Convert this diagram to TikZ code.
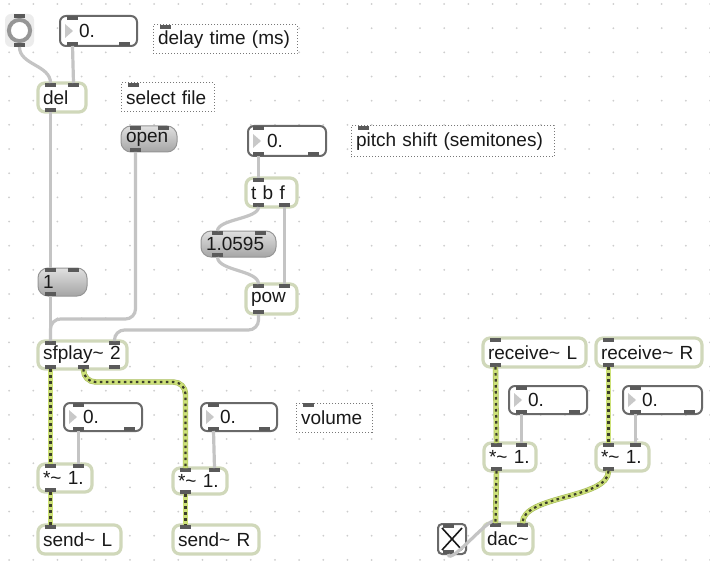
\documentclass[tikz,border=0pt]{standalone}
\usepackage{fontspec}
\setmainfont{Liberation Sans}
\usepackage{tikz}
\usetikzlibrary{calc,positioning}

\definecolor{objline}{RGB}{208,216,186}
\definecolor{msgline}{RGB}{150,150,150}
\definecolor{msgtop}{RGB}{224,224,224}
\definecolor{msgbot}{RGB}{165,165,165}
\definecolor{numline}{RGB}{105,105,105}
\definecolor{cmtline}{RGB}{120,120,120}
\definecolor{port}{RGB}{90,90,90}
\definecolor{cordgray}{RGB}{196,196,196}
\definecolor{siggreen}{RGB}{205,225,120}
\definecolor{sigedge}{RGB}{165,185,90}
\definecolor{sigdark}{RGB}{60,62,42}
\definecolor{dotgray}{RGB}{205,205,205}
\definecolor{txt}{RGB}{25,25,25}
\definecolor{trigray}{RGB}{200,200,200}
\definecolor{bangbg}{RGB}{236,236,236}
\definecolor{ringgray}{RGB}{150,150,150}

\tikzset{
  obj/.style={draw=objline, line width=1.6pt, rounded corners=3.5pt, fill=white,
    anchor=north west, outer sep=0pt, inner xsep=2.5pt, inner ysep=0pt,
    align=left, text=txt, font=\fontsize{9.5}{11}\selectfont},
  msg/.style={obj, draw=msgline, line width=0.5pt, top color=msgtop, bottom color=msgbot, rounded corners=5pt},
  numbox/.style={obj, draw=numline, line width=1pt, rounded corners=3pt, execute at begin node={\hspace*{7pt}}},
  cmt/.style={obj, draw=cmtline, line width=0.5pt, dash pattern=on 0.6pt off 0.9pt, rounded corners=0pt},
  bangbox/.style={fill=bangbg, rounded corners=3pt, anchor=north west, inner sep=0pt, outer sep=0pt,
    minimum width=14.5pt, minimum height=16.5pt},
  togbox/.style={draw=numline, line width=1pt, fill=white, rounded corners=2pt, anchor=north west,
    inner sep=0pt, outer sep=0pt, minimum width=14pt, minimum height=15pt},
  inlet/.style={fill=port, minimum width=5.5pt, minimum height=1.8pt, inner sep=0pt, outer sep=0pt, anchor=north west},
  outlet/.style={inlet, anchor=south west},
  cord/.style={draw=cordgray, line width=1.6pt, rounded corners=5pt},
  sig/.style={draw=siggreen, line width=2.1pt, rounded corners=6pt,
    preaction={draw=sigedge, line width=2.7pt},
    postaction={draw=sigdark, line width=1.1pt, dash pattern=on 1.3pt off 1.7pt}}
}

\begin{document}
\begin{tikzpicture}[x=0.5pt, y=-0.5pt]
  \useasboundingbox (0,0) rectangle (710,561);
  \fill[white] (0,0) rectangle (710,561);
  \foreach \i in {0,...,29}        % grid
    \foreach \j in {0,...,23}
      \fill[dotgray] (9.1+24.17*\i, 4+24.17*\j) circle (0.5pt);

  % delay and file
  \node[bangbox] (bang) at (5,14) {};
  \draw[line width=2pt, draw=ringgray, fill=white] (bang.center) circle (5.3pt);
  \node[numbox, text width=33.5pt, minimum height=15pt] (dtime) at (60,16) {0.};
  \node[cmt, text width=67pt, minimum height=14.5pt] (dlabel) at (153,25) {delay time (ms)};
  \node[obj, text width=19pt, minimum height=14.5pt] (del) at (38,83) {del};
  \node[cmt, text width=41.5pt, minimum height=14.5pt] (sellabel) at (121,83) {select file};
  \node[msg, text width=23pt, minimum height=13pt] (open) at (121,126) {open};
  \node[msg, text width=19.5pt, minimum height=14pt] (one) at (38,268) {1};

  % pitch
  \node[numbox, text width=34pt, minimum height=15pt] (psnum) at (248,126) {0.};
  \node[cmt, text width=96.5pt, minimum height=15.5pt] (pslabel) at (351,126) {pitch shift (semitones)};
  \node[obj, text width=20.5pt, minimum height=14.5pt] (tbf) at (246,178) {t b f};
  \node[msg, text width=32.5pt, minimum height=13pt] (semi) at (201,231) {1.0595};
  \node[obj, text width=20.5pt, minimum height=15pt] (pow) at (246,284) {pow};

  % player and volume
  \node[obj, text width=39.5pt, minimum height=14pt] (sfplay) at (38,341) {sfplay\textasciitilde{} 2};
  \node[numbox, text width=34pt, minimum height=14pt] (vol1) at (64,403) {0.};
  \node[numbox, text width=33pt, minimum height=14pt] (vol2) at (201,403) {0.};
  \node[cmt, text width=33pt, minimum height=14.5pt] (vollabel) at (296,403) {volume};
  \node[obj, text width=22pt, minimum height=14pt] (mulL) at (38,464) {*\textasciitilde{} 1.};
  \node[obj, text width=22pt, minimum height=13pt] (mulR) at (173,468) {*\textasciitilde{} 1.};
  \node[obj, text width=36.5pt, minimum height=14.5pt] (sendL) at (38,525) {send\textasciitilde{} L};
  \node[obj, text width=38pt, minimum height=14.5pt] (sendR) at (173,525) {send\textasciitilde{} R};

  % output
  \node[obj, text width=46.5pt, minimum height=14.5pt] (recvL) at (483,338) {receive\textasciitilde{} L};
  \node[obj, text width=48pt, minimum height=14.5pt] (recvR) at (596,338) {receive\textasciitilde{} R};
  \node[numbox, text width=34pt, minimum height=14pt] (gainL) at (509,386) {0.};
  \node[numbox, text width=34.5pt, minimum height=14pt] (gainR) at (623,386) {0.};
  \node[obj, text width=21pt, minimum height=14pt] (mulL2) at (484,443) {*\textasciitilde{} 1.};
  \node[obj, text width=21.5pt, minimum height=14pt] (mulR2) at (596,443) {*\textasciitilde{} 1.};
  \node[togbox] (tog) at (438,524) {};
  \draw[line width=0.8pt, draw=txt] ($(tog.north west)+(4,4)$) -- ($(tog.south east)+(-4,-4)$);
  \draw[line width=0.8pt, draw=txt] ($(tog.south west)+(4,-4)$) -- ($(tog.north east)+(-4,4)$);
  \node[obj, text width=21pt, inner xsep=2pt, minimum height=15.5pt] (dac) at (483,523) {dac\textasciitilde};

  % number box arrows
  \foreach \b in {dtime, psnum, vol1, vol2, gainL, gainR}
    \fill[trigray] ($(\b.west)+(5,-7)$) -- ($(\b.west)+(5,7)$) -- ($(\b.west)+(13,0)$) -- cycle;

  % inlets and outlets
  \foreach \b/\p/\dx in {bang/i1/9, dtime/i1/7, dlabel/i1/7, del/i1/7, del/i2/30, sellabel/i1/7,
      open/i1/9, open/i2/37, one/i1/7, one/i2/30, psnum/i1/5, pslabel/i1/7, tbf/i1/7,
      semi/i1/11, semi/i2/54, pow/i1/7, pow/i2/33, sfplay/i1/7, sfplay/i2/71, vol1/i1/9,
      vol2/i1/7, vollabel/i1/7, mulL/i1/7, mulL/i2/35, mulR/i1/7, mulR/i2/36, sendL/i1/7,
      sendR/i1/7, recvL/i1/7, recvR/i1/7, gainL/i1/7, gainR/i1/7, mulL2/i1/7, mulL2/i2/32,
      mulR2/i1/7, mulR2/i2/34, tog/i1/5, dac/i1/7, dac/i2/34}
    \node[inlet] (\b-\p) at ($(\b.north west)+(\dx,0)$) {};
  \foreach \b/\p/\dx in {bang/o1/9, dtime/o1/7, dtime/o2/59, del/o1/7, open/o1/9, one/o1/7,
      psnum/o1/5, psnum/o2/60, tbf/o1/7, tbf/o2/33, semi/o1/11, pow/o1/7, sfplay/o1/7,
      sfplay/o2/40, sfplay/o3/71, vol1/o1/9, vol1/o2/60, vol2/o1/7, vol2/o2/58, mulL/o1/7,
      mulR/o1/7, recvL/o1/7, recvR/o1/7, gainL/o1/7, gainL/o2/60, gainR/o1/7, gainR/o2/61,
      mulL2/o1/7, mulR2/o1/7, tog/o1/5}
    \node[outlet] (\b-\p) at ($(\b.south west)+(\dx,0)$) {};

  % control cords
  \draw[cord] (bang-o1.south) .. controls +(0,18) and +(0,-18) .. (del-i1.north);
  \draw[cord] (dtime-o1.south) -- (del-i2.north);
  \draw[cord] (del-o1.south) -- (one-i1.north);
  \draw[cord] (one-o1.south) -- (sfplay-i1.north);
  \draw[cord] (open-o1.south) |- ($(sfplay-i1.north)+(0,-22)$) -- (sfplay-i1.north);
  \draw[cord] (psnum-o1.south) -- (tbf-i1.north);
  \draw[cord] (tbf-o1.south) .. controls +(0,12) and +(0,-12) .. (semi-i1.north);
  \draw[cord] (tbf-o2.south) -- (pow-i2.north);
  \draw[cord] (semi-o1.south) .. controls +(0,14) and +(0,-14) .. (pow-i1.north);
  \draw[cord] (pow-o1.south) |- ($(sfplay-i2.north)+(0,-11)$) -- (sfplay-i2.north);
  \draw[cord] (vol1-o1.south) -- (mulL-i2.north);
  \draw[cord] (vol2-o1.south) -- (mulR-i2.north);
  \draw[cord] (gainL-o1.south) -- (mulL2-i2.north);
  \draw[cord] (gainR-o1.south) -- (mulR2-i2.north);
  \draw[cord] (tog-o1.south) .. controls +(0,14) and +(0,-14) .. (dac-i1.north);

  % signal cords
  \draw[sig] (sfplay-o1.south) -- (mulL-i1.north);
  \draw[sig] (sfplay-o2.south) |- ($(mulR-i1.north)+(0,-86)$) -- (mulR-i1.north);
  \draw[sig] (mulL-o1.south) -- (sendL-i1.north);
  \draw[sig] (mulR-o1.south) -- (sendR-i1.north);
  \draw[sig] (recvL-o1.south) -- (mulL2-i1.north);
  \draw[sig] (recvR-o1.south) -- (mulR2-i1.north);
  \draw[sig] (mulL2-o1.south) -- (dac-i1.north);
  \draw[sig] (mulR2-o1.south) .. controls +(0,28) and +(0,-28) .. (dac-i2.north);
\end{tikzpicture}
\end{document}
